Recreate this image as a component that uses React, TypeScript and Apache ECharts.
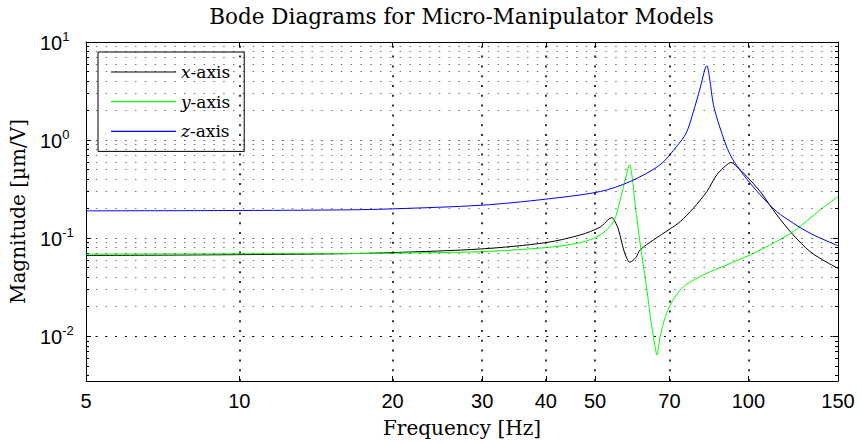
import React, { useEffect, useRef } from "react";
import * as echarts from "echarts";

// ---- data ----
const xAxisFreq = [5, 8.4, 16.2, 20, 30, 40, 46.8, 51.2, 53, 53.97, 55.0, 55.6, 56.9, 57.7, 58.45, 60.2, 61.3, 65.1, 70.2, 73.5, 78.0, 82.9, 86.7, 90.7, 92.4, 94.9, 99.3, 105.5, 113.7, 122.5, 132.2, 142.5, 150];
const xAxisMag = [0.0667, 0.0675, 0.0695, 0.0713, 0.0778, 0.0901, 0.108, 0.13, 0.154, 0.162, 0.14, 0.1216, 0.076, 0.0625, 0.0569, 0.064, 0.076, 0.096, 0.1245, 0.1477, 0.2023, 0.299, 0.443, 0.56, 0.591, 0.538, 0.425, 0.299, 0.173, 0.108, 0.073, 0.0569, 0.0494];

const yAxisFreq = [5, 16.2, 20, 30, 40, 46.8, 51.2, 54.35, 56.0, 57.3, 58.45, 59.1, 60.0, 61.3, 63.2, 64.6, 65.6, 66.1, 67.1, 68.7, 70.8, 73.5, 75.7, 81.6, 90.7, 100.8, 110.4, 122.5, 132.2, 142.5, 150];
const yAxisMag = [0.0687, 0.0698, 0.0703, 0.073, 0.0802, 0.0901, 0.108, 0.1477, 0.246, 0.394, 0.56, 0.425, 0.21, 0.0883, 0.0297, 0.01253, 0.00783, 0.00644, 0.00991, 0.01585, 0.02255, 0.0297, 0.034, 0.0423, 0.0534, 0.0676, 0.0854, 0.1168, 0.16, 0.2188, 0.2658];

const zAxisFreq = [5, 8.4, 16.2, 20, 30, 40, 51.2, 58.6, 67.1, 72.4, 75.5, 78.0, 80.4, 82.3, 82.9, 83.9, 85.4, 88.0, 92.1, 97.8, 105.5, 113.7, 122.5, 132.2, 142.5, 150];
const zAxisMag = [0.19, 0.191, 0.1944, 0.199, 0.217, 0.25, 0.299, 0.378, 0.56, 0.87, 1.18, 1.957, 3.39, 5.43, 5.73, 4.29, 2.29, 1.326, 0.708, 0.443, 0.2767, 0.1868, 0.1422, 0.1125, 0.0938, 0.084];

const seriesNames = ["x-axis", "y-axis", "z-axis"];
const seriesColors = ["#000000", "#00ff00", "#0000ff"];

const xTickLabels = [5, 10, 20, 30, 40, 50, 70, 100, 150];
const xMajorGrid = [10, 20, 30, 40, 50, 70, 100];
const yDecades = [0.01, 0.1, 1, 10];
const yMinor = [
  0.004, 0.005, 0.006, 0.007, 0.008, 0.009,
  0.02, 0.03, 0.04, 0.05, 0.06, 0.07, 0.08, 0.09,
  0.2, 0.3, 0.4, 0.5, 0.6, 0.7, 0.8, 0.9,
  2, 3, 4, 5, 6, 7, 8, 9,
];
const xMin = 5;
const xMax = 150;
const yMin = 0.0035;
const yMax = 10;

const SERIF = "'DejaVu Serif', serif";
const SANS = "'Liberation Sans', Arial, sans-serif";

export default function App() {
  const ref = useRef<HTMLDivElement>(null);
  useEffect(() => {
    if (!ref.current) return;
    const chart = echarts.init(ref.current, null, { renderer: "svg" });

    const axisLine = { show: true, lineStyle: { color: "#000", width: 1 } };
    const xAxisBase = {
      type: "log",
      logBase: 10,
      min: xMin,
      max: xMax,
      axisLine,
      splitLine: { show: false },
      minorTick: { show: false },
      axisTick: { show: true, inside: true, length: 5, customValues: xMajorGrid, lineStyle: { color: "#000" } },
    };
    const yAxisBase = {
      type: "log",
      logBase: 10,
      min: yMin,
      max: yMax,
      splitLine: { show: false },
      minorTick: { show: false },
    };

    const gridLines: any[] = [];
    xMajorGrid.forEach((v) =>
      gridLines.push({ xAxis: v, lineStyle: { color: "#000", width: 1.6, type: [2, 7.8] } })
    );
    yDecades.forEach((v) =>
      gridLines.push({ yAxis: v, lineStyle: { color: "#000", width: 1, opacity: 0.7, type: [1.5, 8.3] } })
    );
    yMinor.forEach((v) =>
      gridLines.push({ yAxis: v, lineStyle: { color: "#000", width: 1, opacity: 0.55, type: [1.5, 8.3] } })
    );

    const freqs = [xAxisFreq, yAxisFreq, zAxisFreq];
    const mags = [xAxisMag, yAxisMag, zAxisMag];

    const option: any = {
      animation: false,
      backgroundColor: "#fff",
      grid: { left: 85, right: 23, top: 42, bottom: 63, containLabel: false },
      graphic: [
        {
          type: "text",
          x: 461.5,
          y: 16,
          style: {
            text: "Bode Diagrams for Micro-Manipulator Models",
            font: `21.5px ${SERIF}`,
            fill: "#000",
            textAlign: "center",
            textVerticalAlign: "middle",
          },
        },
      ],
      legend: {
        orient: "vertical",
        left: 98,
        top: 52,
        padding: [10, 14, 10, 13],
        itemWidth: 65,
        itemHeight: 1.2,
        itemGap: 9.7,
        itemTextGap: 6,
        backgroundColor: "#fff",
        borderColor: "#000",
        borderWidth: 1,
        borderRadius: 0,
        data: seriesNames.map((n) => ({ name: n, icon: "rect" })),
        formatter: (name: string) => `{i|${name[0]}}{n|${name.slice(1)}}`,
        textStyle: {
          fontFamily: SERIF,
          fontSize: 17,
          color: "#000",
          lineHeight: 20,
          rich: {
            i: { fontFamily: SERIF, fontSize: 17, fontStyle: "italic", color: "#000", lineHeight: 20 },
            n: { fontFamily: SERIF, fontSize: 17, color: "#000", lineHeight: 20 },
          },
        },
      },
      xAxis: [
        {
          ...xAxisBase,
          position: "bottom",
          name: "Frequency [Hz]",
          nameLocation: "middle",
          nameGap: 37,
          nameTextStyle: { fontFamily: SERIF, fontSize: 20, color: "#000" },
          axisLabel: {
            show: true,
            customValues: xTickLabels,
            formatter: (v: number) => String(Math.round(v)),
            fontFamily: SANS,
            fontSize: 20,
            color: "#000",
            margin: 10,
          },
        },
        {
          ...xAxisBase,
          position: "top",
          axisLabel: { show: false },
        },
      ],
      yAxis: [
        {
          ...yAxisBase,
          position: "left",
          axisLine,
          name: "Magnitude [µm/V]",
          nameLocation: "middle",
          nameGap: 58,
          nameTextStyle: { fontFamily: SERIF, fontSize: 20, color: "#000" },
          axisTick: { show: true, inside: true, length: 5, customValues: yDecades, lineStyle: { color: "#000" } },
          axisLabel: {
            show: true,
            customValues: yDecades,
            margin: 46,
            align: "left",
            formatter: (v: number) => `{b|10}{s|${Math.round(Math.log10(v))}}`,
            rich: {
              b: { fontFamily: SANS, fontSize: 20, color: "#000", lineHeight: 22, verticalAlign: "bottom" },
              s: { fontFamily: SANS, fontSize: 13, color: "#000", lineHeight: 13, verticalAlign: "bottom", padding: [0, 0, 10, 0] },
            },
          },
        },
        {
          ...yAxisBase,
          position: "left",
          axisLine: { show: false },
          axisLabel: { show: false },
          axisTick: { show: true, inside: true, length: 3, customValues: yMinor, lineStyle: { color: "#000" } },
        },
        {
          ...yAxisBase,
          position: "right",
          axisLine,
          axisLabel: { show: false },
          axisTick: { show: true, inside: true, length: 5, customValues: yDecades, lineStyle: { color: "#000" } },
        },
        {
          ...yAxisBase,
          position: "right",
          axisLine: { show: false },
          axisLabel: { show: false },
          axisTick: { show: true, inside: true, length: 3, customValues: yMinor, lineStyle: { color: "#000" } },
        },
      ],
      series: [
        {
          name: "__grid",
          type: "line",
          xAxisIndex: 0,
          yAxisIndex: 0,
          data: [],
          z: 1,
          silent: true,
          markLine: {
            silent: true,
            symbol: ["none", "none"],
            label: { show: false },
            animation: false,
            data: gridLines,
          },
        },
        ...seriesNames.map((name, k) => ({
          name,
          type: "line",
          xAxisIndex: 0,
          yAxisIndex: 0,
          data: freqs[k].map((f, i) => [f, mags[k][i]]),
          showSymbol: false,
          symbol: "none",
          smooth: 0.3,
          z: 3,
          color: seriesColors[k],
          lineStyle: { color: seriesColors[k], width: 1 },
        })),
      ],
    };
    chart.setOption(option);
    return () => chart.dispose();
  }, []);
  return (
    <div
      ref={ref}
      style={{ position: "fixed", left: 0, top: 0, width: 861, height: 444, background: "#fff" }}
    />
  );
}
